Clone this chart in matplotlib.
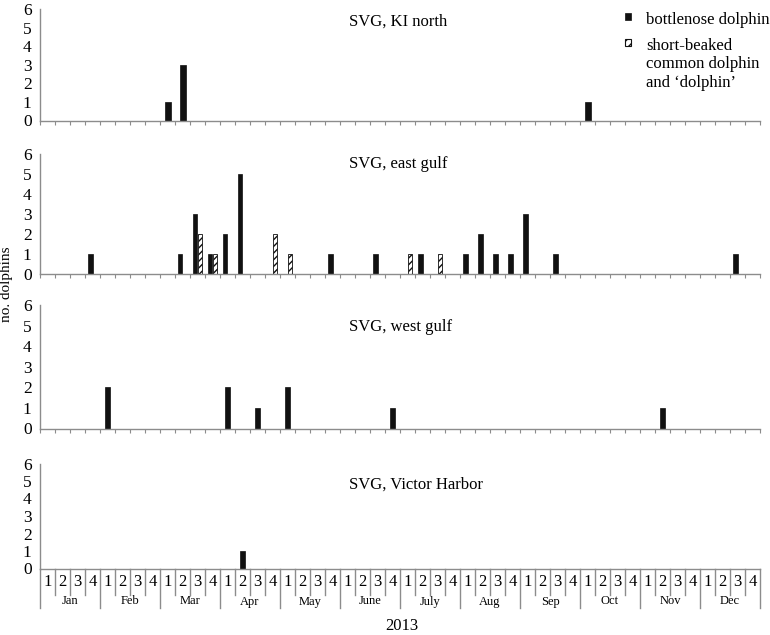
import numpy as np
import matplotlib
matplotlib.use("Agg")
import matplotlib.pyplot as plt
from matplotlib.patches import Rectangle

plt.rcParams['font.family'] = ['Liberation Serif', 'DejaVu Serif']
plt.rcParams['hatch.linewidth'] = 1.0

# 48 week slots: 4 per month
months = ["Jan", "Feb", "Mar", "Apr", "May", "June",
          "July", "Aug", "Sep", "Oct", "Nov", "Dec"]
week_labels = ["1", "2", "3", "4"]

# (week index, count)
ki_north_bn_weeks = [8, 9, 36]
ki_north_bn_counts = [1, 3, 1]

east_bn_weeks = [3, 9, 10, 11, 12, 13, 19, 22, 25, 28, 29, 30, 31, 32, 34, 46]
east_bn_counts = [1, 1, 3, 1, 2, 5, 1, 1, 1, 1, 2, 1, 1, 3, 1, 1]
east_cd_weeks = [10, 11, 15, 16, 24, 26]
east_cd_counts = [2, 1, 2, 1, 1, 1]

west_bn_weeks = [4, 12, 14, 16, 23, 41]
west_bn_counts = [2, 2, 1, 2, 1, 1]

victor_bn_weeks = [13]
victor_bn_counts = [1]

titles = ["SVG, KI north", "SVG, east gulf", "SVG, west gulf", "SVG, Victor Harbor"]

W, H = 770, 635
fig = plt.figure(figsize=(W / 100, H / 100), dpi=100)

def fx(px):
    return px / W

def fy(py):
    return 1 - py / H

# panel extents in pixels (top, bottom of plotting area)
left, right = 40, 760
panels = [(9, 120.5), (153.5, 274), (305, 428.5), (463.5, 568.5)]
title_y = [22, 164, 327, 485]
grey = "#8c8c8c"

axes = []
for k, (top, bot) in enumerate(panels):
    ax = fig.add_axes([fx(left), fy(bot), fx(right - left), (bot - top) / H])
    ax.set_xlim(0, 48)
    ax.set_ylim(0, 6)
    for s in ["top", "right"]:
        ax.spines[s].set_visible(False)
    for s in ["left", "bottom"]:
        ax.spines[s].set_color(grey)
        ax.spines[s].set_linewidth(1.0)
    ax.set_yticks(range(7))
    ax.tick_params(axis="y", length=0, pad=6, labelsize=12.5)
    ax.set_xticks(np.arange(49))
    ax.set_xticklabels([])
    if k < 3:
        ax.tick_params(axis="x", length=3, color=grey, width=0.8)
    else:
        ax.tick_params(axis="x", length=0)
    ax.patch.set_alpha(0)
    fig.text(fx(349), fy(title_y[k]), titles[k], fontsize=12, va="center", ha="left")
    axes.append(ax)

# bars
axes[0].bar(np.array(ki_north_bn_weeks) + 0.5, ki_north_bn_counts, width=0.4,
            color="#111111", edgecolor="#111111", linewidth=0.5)
axes[1].bar(np.array(east_bn_weeks) + 0.36, east_bn_counts, width=0.28,
            color="#111111", edgecolor="#111111", linewidth=0.5)
axes[1].bar(np.array(east_cd_weeks) + 0.65, east_cd_counts, width=0.3,
            color="white", edgecolor="#111111", hatch="/////", linewidth=0.6)
axes[2].bar(np.array(west_bn_weeks) + 0.5, west_bn_counts, width=0.37,
            color="#111111", edgecolor="#111111", linewidth=0.5)
axes[3].bar(np.array(victor_bn_weeks) + 0.5, victor_bn_counts, width=0.37,
            color="#111111", edgecolor="#111111", linewidth=0.5)

# two-level category axis under the last panel
ax = axes[3]
top, bot = panels[3]
ph = bot - top
tr = ax.get_xaxis_transform()
week_row = 26 / ph
month_row = 39.5 / ph
for i in range(49):
    depth = month_row if i % 4 == 0 else week_row
    ax.plot([i, i], [0, -depth], color=grey, lw=1.0, transform=tr, clip_on=False)
for i in range(48):
    ax.text(i + 0.5, -13 / ph, week_labels[i % 4], transform=tr,
            ha="center", va="center", fontsize=12)
for m, name in enumerate(months):
    ax.text(m * 4 + 2, -33 / ph, name, transform=tr,
            ha="center", va="center", fontsize=9)

fig.text(fx(402), fy(626), "2013", fontsize=12, ha="center", va="center")
fig.text(fx(7), fy(284), "no. dolphins", fontsize=11, rotation=90,
         ha="center", va="center")

# legend
fig.add_artist(Rectangle((fx(624.5), fy(19.5)), fx(6), 6 / H,
                         transform=fig.transFigure, facecolor="#111111",
                         edgecolor="#111111", lw=0.5))
fig.add_artist(Rectangle((fx(624.5), fy(45.5)), fx(6), 6 / H,
                         transform=fig.transFigure, facecolor="white",
                         edgecolor="#111111", hatch="////", lw=0.8))
fig.text(fx(646), fy(20), "bottlenose dolphin", fontsize=12, va="center", ha="left")
fig.text(fx(646), fy(38), "short-beaked\ncommon dolphin\nand \u2018dolphin\u2019",
         fontsize=12, va="top", ha="left", linespacing=1.2)

fig.savefig("out.png", dpi=100)
